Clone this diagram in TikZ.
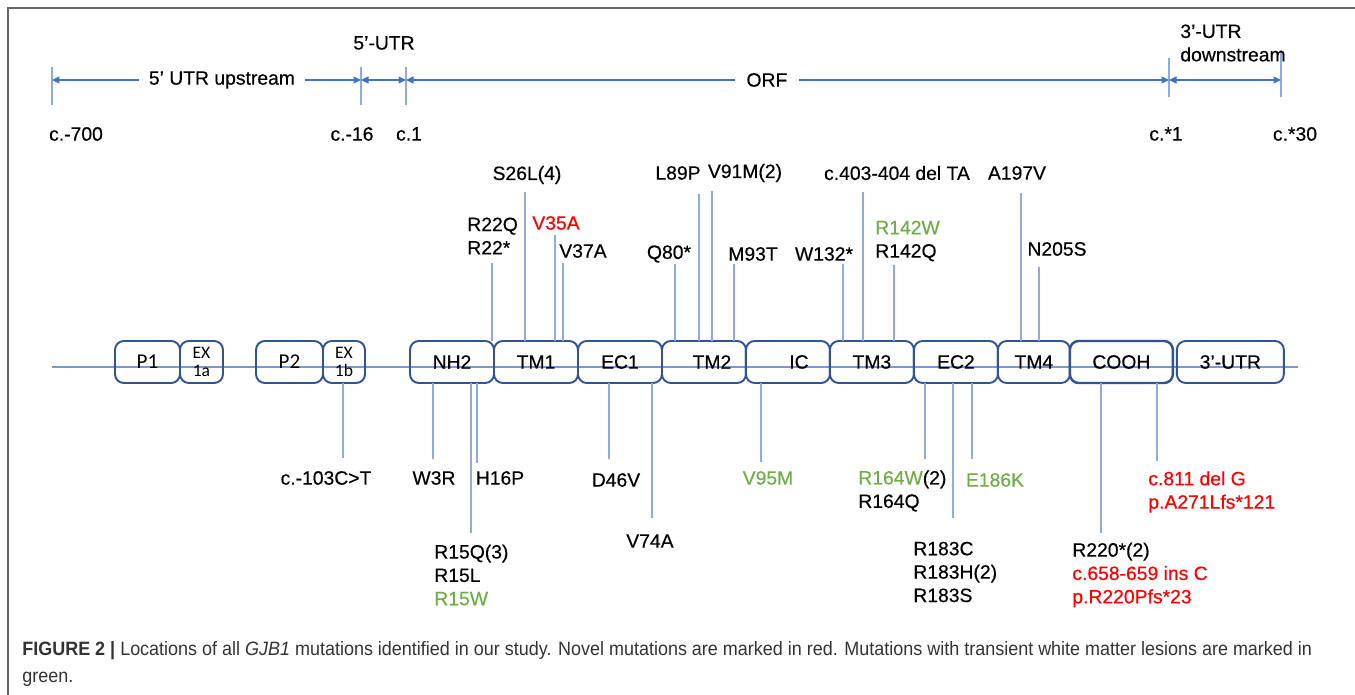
\documentclass[tikz,border=0pt]{standalone}
\usepackage{fontspec}
\setmainfont{Liberation Sans}
\newfontfamily\labfont{Liberation Sans}[FakeBold=0.4]
\newfontfamily\boxfont{Carlito}
\newfontfamily\capfont{Liberation Sans}[FakeStretch=0.93]
\usetikzlibrary{arrows.meta, positioning}
\definecolor{boxblue}{HTML}{2F5597}
\definecolor{dimblue}{HTML}{4472C4}
\definecolor{stemblue}{HTML}{8FAADC}
\definecolor{novred}{HTML}{FF0000}
\definecolor{wmgreen}{HTML}{70AD47}
\definecolor{capgray}{HTML}{333333}
\newcommand\mutfont{\labfont\fontsize{11}{13.3}\selectfont}

\begin{document}
\begin{tikzpicture}[x=0.02cm,y=-0.02cm, box/.style={draw=boxblue,line width=1.1pt,rounded corners=5pt,minimum height=0.84cm,minimum width=1.68cm,inner sep=0pt,outer sep=0pt,font=\mutfont}, pbox/.style={box,font=\fontsize{12}{14}\boxfont}, exbox/.style={box,font=\fontsize{10}{10.4}\boxfont,align=center}, stem/.style={stemblue,line width=0.6pt}, dim/.style={dimblue,line width=0.6pt,{Triangle[length=0.15cm,width=0.14cm]}-{Triangle[length=0.15cm,width=0.14cm]}}, lab/.style={font=\mutfont,inner sep=0pt,text=black}, mlab/.style={lab,align=left,anchor=west}]
  \useasboundingbox (0,0) rectangle (1355,695);
  \draw[black!60,line width=0.03cm] (8,695) -- (8,8) -- (1355,8);

  % dimension line
  \foreach \n/\x/\a/\b in {d1/52/67/105,d2/361/67/105,d3/406/67/105,d4/1169/58/97,d5/1281/50/97}{\coordinate (\n) at (\x,80); \draw[stem] (\n |- 0,\a) -- (\n |- 0,\b);}
  \draw[dim](d1)--node[pos=0.55,fill=white,lab,inner xsep=0.2cm]{5’ UTR upstream}(d2);
  \draw[dim](d2)--(d3);
  \draw[dim](d3)--node[pos=0.473,fill=white,lab,inner xsep=0.24cm]{ORF}(d4);
  \draw[dim](d4)--(d5);
  \node[lab](utr5) at (384,43){5’-UTR};
  \node[mlab](utr3d) at (1180,43){3’-UTR\\downstream};
  \foreach \n/\x/\t in {c700/76/c.-700,c16/352/c.-16,c1/409/c.1,cs1/1166/c.*1,cs30/1295/c.*30}{\node[lab](\n) at (\x,134){\t};}

  % gene
  \coordinate (bbL) at (52,367); \coordinate (bbR) at (1298,367);
  \draw[stemblue!70!dimblue,line width=0.6pt](bbL)--(bbR);
  \node[pbox,minimum width=1.3cm](p1) at (147.5,362){P1};
  \node[exbox,minimum width=0.86cm,right=0pt of p1](ex1a){EX\\1a};
  \node[pbox,minimum width=1.34cm](p2) at (289.5,362){P2};
  \node[exbox,minimum width=0.84cm,right=0pt of p2](ex1b){EX\\1b};
  \node[box](nh2) at (452,362){NH2};
  \node[box,right=0pt of nh2](tm1){TM1};
  \node[box,right=0pt of tm1](ec1){EC1};
  \node[box,right=0pt of ec1](tm2){\hspace{0.32cm}TM2};
  \node[box,right=0pt of tm2](ic){\hspace{0.44cm}IC};
  \node[box,right=0pt of ic](tm3){TM3};
  \node[box,right=0pt of tm3](ec2){EC2};
  \node[box,minimum width=1.44cm,right=0pt of ec2](tm4){TM4};
  \node[box,minimum width=2.06cm,line width=1.4pt,right=0pt of tm4](cooh){COOH};
  \node[box,minimum width=2.14cm,right=0.08cm of cooh](utr3){3’-UTR};

  % mutation stems
  \foreach \n/\x/\y/\b in {r22/492/263/nh2,s26/525/192/tm1,v35/555/235/tm1,v37/563/263/tm1,q80/675/264/tm2,l89/699/194/tm2,v91/712/191/tm2,m93/734/264/tm2,w132/843/264/tm3,del403/863/192/tm3,r142/894/265/tm3,a197/1021/193/tm4,n205/1039/267/tm4}{\coordinate (\n) at (\x,\y); \draw[stem](\n)--(\n |- \b.north);}
  \foreach \n/\x/\y/\b in {c103/343/458/ex1b,w3/433/459/nh2,r15/471/533/nh2,h16/477/463/nh2,d46/609/459/ec1,v74/652/518/ec1,v95/761/462/ic,r164/925/459/ec2,r183/953/518/ec2,e186/972/459/ec2,r220/1101/533/cooh,c811/1157/461/cooh}{\coordinate (\n) at (\x,\y); \draw[stem](\n)--(\n |- \b.south);}

  % upper labels
  \node[mlab](lr22) at (467,236){R22Q\\R22*};
  \node[lab](ls26) at (527,175){S26L(4)};
  \node[lab,text=novred](lv35) at (556,223){V35A};
  \node[lab](lv37) at (583,251){V37A};
  \node[lab](lq80) at (669,254){Q80*};
  \node[lab](ll89) at (678,173){L89P};
  \node[lab](lv91) at (745,173){V91M(2)};
  \node[lab](lm93) at (753,254){M93T};
  \node[lab](lw132) at (824,254){W132*};
  \node[lab](ldel403) at (897,173){c.403-404 del TA};
  \node[mlab](lr142) at (875,241){\textcolor{wmgreen}{R142W}\\R142Q};
  \node[lab](la197) at (1017,173){A197V};
  \node[lab](ln205) at (1057,249){N205S};

  % lower labels
  \node[lab](lc103) at (326,478){c.-103C>T};
  \node[lab](lw3) at (434,478){W3R};
  \node[mlab](lr15) at (434,575){R15Q(3)\\R15L\\\textcolor{wmgreen}{R15W}};
  \node[lab](lh16) at (500,478){H16P};
  \node[lab](ld46) at (616,480){D46V};
  \node[lab](lv74) at (650,541){V74A};
  \node[lab,text=wmgreen](lv95) at (768,478){V95M};
  \node[mlab](lr164) at (858,491){\textcolor{wmgreen}{R164W}(2)\\R164Q};
  \node[mlab](lr183) at (913,572){R183C\\R183H(2)\\R183S};
  \node[lab,text=wmgreen](le186) at (995,480){E186K};
  \node[mlab](lr220) at (1072,575){R220*(2)\\\textcolor{novred}{c.658-659 ins C}\\\textcolor{novred}{p.R220Pfs*23}};
  \node[mlab,text=novred](lc811) at (1148,492){c.811 del G\\p.A271Lfs*121};

  \node[anchor=west,align=left,inner sep=0pt,text=capgray,font={\capfont\fontsize{11}{14.8}\selectfont}](cap) at (22,664){{\bfseries FIGURE 2 \textbar} Locations of all \textit{GJB1} mutations identified in our study. Novel mutations are marked in red. Mutations with transient white matter lesions are marked in\\green.};
\end{tikzpicture}
\end{document}
